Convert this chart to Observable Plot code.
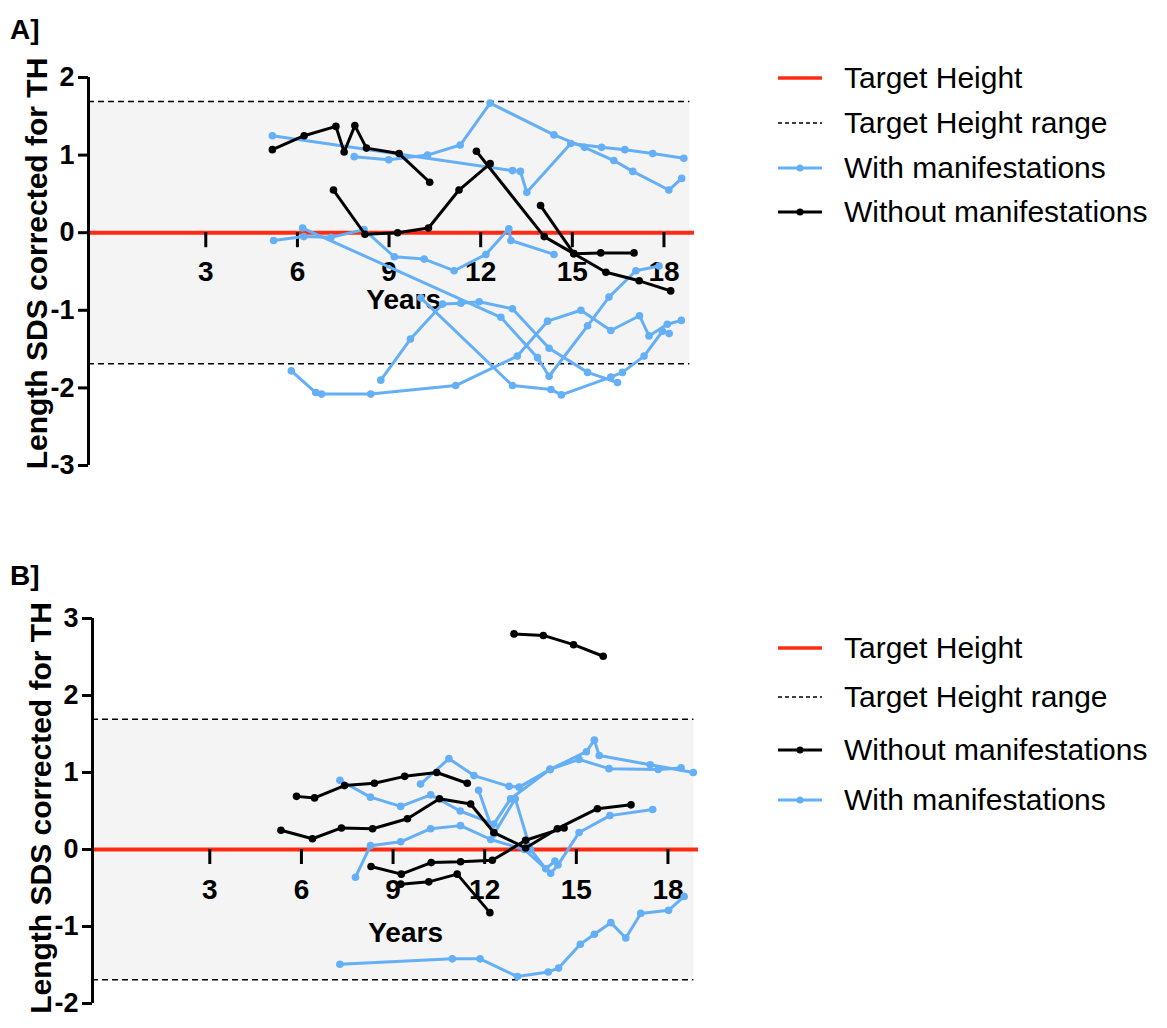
<!DOCTYPE html>
<html>
<head>
<meta charset="utf-8">
<script src="https://cdn.jsdelivr.net/npm/d3@7"></script>
<script src="https://cdn.jsdelivr.net/npm/@observablehq/plot@0.6"></script>
<style>
  body { margin: 0; background: #fff; }
  #root { position: relative; width: 1167px; height: 1028px; overflow: hidden; background: #fff;
          font-family: "Liberation Sans", Arial, sans-serif; }
  .panel { position: absolute; left: 0; }
  .ptitle { position: absolute; left: 10px; font-size: 28px; font-weight: bold; color: #000; }
  .leg { position: absolute; left: 776px; display: flex; align-items: center; font-size: 30px; color: #000; white-space: nowrap; }
  .leg svg { margin-right: 22px; }
</style>
</head>
<body>
<div id="root"></div>
<script>
// ---------------- DATA ----------------
const xTicks = [3, 6, 9, 12, 15, 18];
const yTicksA = [-3, -2, -1, 0, 1, 2];
const yTicksB = [-2, -1, 0, 1, 2, 3];
const targetHeight = 0;
const targetRange = 1.69;

// Panel A - with manifestations (age in years, length SDS)
const aWith1 = [[5.18,1.25],[13.04,0.80],[13.3,0.79],[13.51,0.52],[14.95,1.15],[15.96,1.10],[16.72,1.07],[17.63,1.02],[18.65,0.96]];
const aWith2 = [[7.86,0.98],[8.99,0.94],[10.26,1.0],[11.33,1.13],[12.31,1.67],[14.4,1.26],[15.4,1.10],[16.36,0.93],[16.98,0.79],[18.16,0.55],[18.58,0.70]];
const aWith3 = [[5.22,-0.10],[6.21,-0.05],[7.1,-0.06],[8.18,0.04],[9.17,-0.31],[10.15,-0.34],[11.13,-0.49],[12.17,-0.28],[12.92,0.05],[12.99,-0.10],[14.4,-0.28]];
const aWith4 = [[8.73,-1.9],[9.7,-1.37],[10.75,-0.92],[11.35,-0.91],[11.95,-0.89],[13.04,-0.98],[14.24,-1.49],[15.5,-1.80],[16.48,-1.93]];
const aWith5 = [[6.17,0.06],[12.66,-1.09],[13.86,-1.61],[14.24,-1.85],[15.5,-1.2],[16.2,-0.83],[17.08,-0.49],[17.84,-0.43]];
const aWith6 = [[10.04,-0.84],[13.04,-1.97],[14.3,-2.02],[14.64,-2.09],[16.26,-1.86],[16.64,-1.80],[17.35,-1.59],[17.95,-1.27],[18.17,-1.30]];
const aWith7 = [[5.8,-1.78],[6.6,-2.06],[6.79,-2.08],[8.4,-2.08],[11.18,-1.97],[13.2,-1.59],[14.19,-1.14],[15.28,-1.0],[16.26,-1.26],[17.2,-1.07],[17.51,-1.33],[18.11,-1.18],[18.57,-1.13]];
// Panel A - without manifestations
const aWithout1 = [[5.18,1.07],[6.22,1.25],[7.26,1.37],[7.53,1.04],[7.88,1.38],[8.26,1.09],[9.33,1.02],[10.33,0.65]];
const aWithout2 = [[7.18,0.55],[8.21,-0.02],[9.28,0.0],[10.29,0.06],[11.29,0.55],[12.31,0.89]];
const aWithout3 = [[11.86,1.05],[14.08,-0.05],[15.05,-0.27],[16.1,-0.51],[17.19,-0.62],[18.22,-0.75]];
const aWithout4 = [[13.96,0.35],[15.05,-0.27],[15.93,-0.26],[17.02,-0.26]];

// Panel B - without manifestations
const bWithout1 = [[12.96,2.80],[13.92,2.78],[14.91,2.66],[15.88,2.51]];
const bWithout2 = [[5.84,0.69],[6.43,0.67],[7.41,0.83],[8.39,0.86],[9.38,0.95],[10.43,1.0],[11.43,0.86]];
const bWithout3 = [[5.33,0.25],[6.36,0.14],[7.31,0.28],[8.33,0.27],[9.47,0.40],[10.52,0.66],[11.54,0.59],[12.3,0.22],[13.34,0.02],[14.38,0.27],[15.69,0.53],[16.79,0.58]];
const bWithout4 = [[8.28,-0.22],[9.27,-0.32],[10.25,-0.17],[11.21,-0.16],[12.25,-0.14],[13.34,0.12],[14.6,0.28]];
const bWithout5 = [[9.25,-0.45],[10.17,-0.42],[11.1,-0.32],[12.17,-0.82]];
// Panel B - with manifestations
const bWith1 = [[7.26,-1.49],[10.94,-1.42],[11.85,-1.42],[13.07,-1.65],[14.08,-1.59],[14.42,-1.54],[15.13,-1.23],[15.59,-1.10],[16.13,-0.95],[16.62,-1.15],[17.11,-0.83],[18.02,-0.79],[18.53,-0.61]];
const bWith2 = [[7.26,0.90],[8.26,0.68],[9.25,0.56],[10.23,0.71],[11.2,0.50],[12.3,0.33],[12.85,0.66],[14.14,1.04],[15.09,1.17],[16.07,1.05],[17.68,1.04],[18.43,1.06]];
const bWith3 = [[9.9,0.85],[10.83,1.18],[11.65,0.96],[12.8,0.82],[13.13,0.81],[14.14,1.04],[15.33,1.27],[15.59,1.42],[15.75,1.22],[17.42,1.10],[18.83,1.0]];
const bWith4 = [[7.77,-0.36],[8.26,0.05],[9.25,0.10],[10.23,0.27],[11.21,0.31],[12.2,0.13],[13.3,0.0],[14.16,-0.31],[14.4,-0.2],[15.09,0.22],[16.1,0.44],[17.5,0.52]];
const bWith5 = [[11.8,0.77],[12.3,0.2],[13.0,0.66],[13.5,0.0],[14.0,-0.25],[14.3,-0.15]];

// ---------------- BUILD ----------------
const BLUE = "#64aff5", BLACK = "#000", RED = "#ff2a12", GREY = "#f4f4f4";
function rows(series, group) {
  const out = [];
  series.forEach((s, i) => s.forEach(([x, y]) => out.push({id: group + i, group, x, y})));
  return out;
}
const A_with = rows([aWith1,aWith2,aWith3,aWith4,aWith5,aWith6,aWith7], "with");
const A_without = rows([aWithout1,aWithout2,aWithout3,aWithout4], "without");
const B_with = rows([bWith1,bWith2,bWith3,bWith4,bWith5], "with");
const B_without = rows([bWithout1,bWithout2,bWithout3,bWithout4,bWithout5], "without");

const xDomain = [-0.84, 19];
const rangeEnd = 18.85;
const FONT = "Liberation Sans, Arial, Helvetica, sans-serif";

function panel({withRows, withoutRows, yDomain, yTicks, width, height, marginLeft, marginRight, marginTop, marginBottom, tickDy, yearsX, yearsDy, labelDy}) {
  return Plot.plot({
    width, height, marginLeft, marginRight, marginTop, marginBottom,
    style: {fontFamily: FONT, fontWeight: "bold", fontSize: "28px", background: "transparent", color: "#000", overflow: "visible"},
    x: {domain: xDomain, axis: null},
    y: {domain: yDomain, axis: null},
    marks: [
      Plot.rect([targetRange], {x1: xDomain[0], x2: rangeEnd, y1: d => -d, y2: d => d, fill: GREY}),
      Plot.ruleY([targetRange, -targetRange], {x1: xDomain[0], x2: rangeEnd, stroke: "#000", strokeWidth: 1.5, strokeDasharray: "6,4"}),
      Plot.ruleY([targetHeight], {stroke: RED, strokeWidth: 4}),
      // x ticks on the y=0 axis
      Plot.ruleX(xTicks, {x: d => d, y1: 0, y2: 0, insetBottom: -15, stroke: "#000", strokeWidth: 3}),
      Plot.text(xTicks, {x: d => d, y: 0, dy: tickDy, text: d => String(d), fontSize: 28, fontWeight: "bold", fill: "#000"}),
      Plot.text(["Years"], {x: yearsX, y: 0, dy: yearsDy, text: d => d, fontSize: 28, fontWeight: "bold", fill: "#000"}),
      // y axis
      Plot.ruleX([xDomain[0]], {stroke: "#000", strokeWidth: 3}),
      Plot.axisY({ticks: yTicks, tickSize: 10, tickPadding: 4, strokeWidth: 3, fontSize: 27, fontWeight: "bold", label: null, tickFormat: d => String(d)}),
      Plot.text(["Length SDS corrected for TH"], {frameAnchor: "left", textAnchor: "middle", lineAnchor: "middle", dx: -51, dy: labelDy, rotate: -90, text: d => d, fontSize: 30, fontWeight: "bold", fill: "#000"}),
      // data
      Plot.line(withRows, {x: "x", y: "y", z: "id", stroke: BLUE, strokeWidth: 3}),
      Plot.dot(withRows, {x: "x", y: "y", r: 3.8, fill: BLUE}),
      Plot.line(withoutRows, {x: "x", y: "y", z: "id", stroke: BLACK, strokeWidth: 3}),
      Plot.dot(withoutRows, {x: "x", y: "y", r: 3.8, fill: BLACK})
    ]
  });
}

const root = document.getElementById("root");

const pA = panel({withRows: A_with, withoutRows: A_without, yDomain: [-3, 2], yTicks: yTicksA,
  width: 720, height: 500, marginLeft: 88, marginRight: 26, marginTop: 77, marginBottom: 35,
  tickDy: 39, yearsX: 9.48, yearsDy: 67, labelDy: -8});
pA.classList.add("panel"); pA.style.top = "0px";
root.appendChild(pA);

const pB = panel({withRows: B_with, withoutRows: B_without, yDomain: [-2, 3], yTicks: yTicksB,
  width: 720, height: 468, marginLeft: 92, marginRight: 22, marginTop: 58, marginBottom: 25,
  tickDy: 41, yearsX: 9.41, yearsDy: 84, labelDy: -3});
pB.classList.add("panel"); pB.style.top = "560px";
root.appendChild(pB);

function title(text, top) {
  const d = document.createElement("div");
  d.className = "ptitle"; d.textContent = text; d.style.top = top + "px";
  root.appendChild(d);
}
title("A]", 14);
title("B]", 560);

function legendItem(label, kind, cy) {
  const d = document.createElement("div");
  d.className = "leg"; d.style.top = (cy - 20) + "px"; d.style.height = "40px";
  const ns = "http://www.w3.org/2000/svg";
  const s = document.createElementNS(ns, "svg");
  s.setAttribute("width", 46); s.setAttribute("height", 20);
  const l = document.createElementNS(ns, "line");
  l.setAttribute("x1", 2); l.setAttribute("x2", 46); l.setAttribute("y1", 10); l.setAttribute("y2", 10);
  if (kind === "target") { l.setAttribute("stroke", RED); l.setAttribute("stroke-width", 3.5); }
  else if (kind === "range") { l.setAttribute("stroke", "#000"); l.setAttribute("stroke-width", 1.3); l.setAttribute("stroke-dasharray", "4,3"); }
  else { l.setAttribute("stroke", kind === "with" ? BLUE : BLACK); l.setAttribute("stroke-width", 3); }
  s.appendChild(l);
  if (kind === "with" || kind === "without") {
    const c = document.createElementNS(ns, "circle");
    c.setAttribute("cx", 24); c.setAttribute("cy", 10); c.setAttribute("r", 3.5);
    c.setAttribute("fill", kind === "with" ? BLUE : BLACK);
    s.appendChild(c);
  }
  d.appendChild(s);
  const t = document.createElement("span"); t.textContent = label; d.appendChild(t);
  root.appendChild(d);
}
legendItem("Target Height", "target", 78);
legendItem("Target Height range", "range", 123);
legendItem("With manifestations", "with", 168);
legendItem("Without manifestations", "without", 212);

legendItem("Target Height", "target", 648);
legendItem("Target Height range", "range", 697);
legendItem("Without manifestations", "without", 750);
legendItem("With manifestations", "with", 800);
</script>
</body>
</html>
